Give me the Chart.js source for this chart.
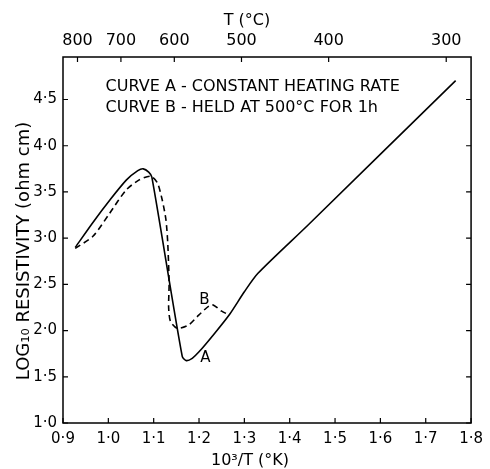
<!DOCTYPE html>
<html>
<head>
<meta charset="utf-8">
<script src="https://cdn.jsdelivr.net/npm/chart.js@4"></script>
<style>
html, body { margin: 0; padding: 0; background: #fff; }
#wrap { width: 490px; height: 469px; }
</style>
</head>
<body>
<div id="wrap"><canvas id="resChart"></canvas></div>
<script>
// curve A - constant heating rate (x = 10^3/T, y = log10 resistivity)
var curveAx = [0.927, 0.966, 1.003, 1.040, 1.065, 1.077, 1.089, 1.096, 1.163, 1.172, 1.185, 1.200, 1.236, 1.268, 1.300, 1.330, 1.440, 1.766];
var curveAy = [2.900, 3.170, 3.410, 3.630, 3.730, 3.750, 3.715, 3.660, 1.720, 1.675, 1.700, 1.770, 1.980, 2.180, 2.420, 2.620, 3.140, 4.705];

// curve B - held at 500 C for 1h
var curveBx = [0.927, 0.966, 1.003, 1.039, 1.068, 1.093, 1.108, 1.119, 1.127, 1.131, 1.134, 1.133, 1.137, 1.152, 1.177, 1.200, 1.228, 1.250, 1.266];
var curveBy = [2.890, 3.020, 3.270, 3.520, 3.630, 3.670, 3.600, 3.410, 3.200, 2.950, 2.510, 2.250, 2.100, 2.025, 2.060, 2.170, 2.280, 2.210, 2.170];

// top axis: temperature in deg C
var topTemps = [800, 700, 600, 500, 400, 300];

var legendLines = ['CURVE A - CONSTANT HEATING RATE', 'CURVE B - HELD AT 500\u00B0C FOR 1h'];
var curveLabels = [{ text: 'A', x: 1.214, y: 1.70 }, { text: 'B', x: 1.212, y: 2.33 }];

var FONT = '"DejaVu Sans", sans-serif';

function toPoints(xs, ys) {
  var pts = [];
  for (var i = 0; i < xs.length; i++) {
    pts.push({ x: xs[i], y: ys[i] });
  }
  return pts;
}

function dotLabel(v) {
  return v.toFixed(1).replace('.', '\u00B7');
}

// frame, inward ticks, axis titles and text notes
var framePlugin = {
  id: 'frame',
  afterDraw: function (chart) {
    var ctx = chart.ctx;
    var a = chart.chartArea;
    var sx = chart.scales.x, sy = chart.scales.y, st = chart.scales.x2;
    var tl = 5;
    ctx.save();
    ctx.strokeStyle = '#000';
    ctx.lineWidth = 1.5;
    ctx.strokeRect(a.left, a.top, a.right - a.left, a.bottom - a.top);
    ctx.lineWidth = 1.2;
    ctx.beginPath();
    sx.ticks.forEach(function (t) {
      var px = sx.getPixelForValue(t.value);
      ctx.moveTo(px, a.bottom);
      ctx.lineTo(px, a.bottom - tl);
    });
    st.ticks.forEach(function (t) {
      var px = st.getPixelForValue(t.value);
      ctx.moveTo(px, a.top);
      ctx.lineTo(px, a.top + tl);
    });
    sy.ticks.forEach(function (t) {
      var py = sy.getPixelForValue(t.value);
      ctx.moveTo(a.left, py);
      ctx.lineTo(a.left + tl, py);
      ctx.moveTo(a.right, py);
      ctx.lineTo(a.right - tl, py);
    });
    ctx.stroke();

    ctx.fillStyle = '#000';
    ctx.textBaseline = 'middle';
    ctx.textAlign = 'left';
    ctx.font = '16px ' + FONT;
    ctx.fillText(legendLines[0], sx.getPixelForValue(0.994), sy.getPixelForValue(4.64));
    ctx.fillText(legendLines[1], sx.getPixelForValue(0.994), sy.getPixelForValue(4.41));

    ctx.textAlign = 'center';
    ctx.font = '15px ' + FONT;
    curveLabels.forEach(function (l) {
      ctx.fillText(l.text, sx.getPixelForValue(l.x), sy.getPixelForValue(l.y));
    });

    // axis titles
    ctx.font = '16px ' + FONT;
    ctx.fillText('10\u00B3/T (\u00B0K)', a.left + 187, a.bottom + 38);
    ctx.fillText('T (\u00B0C)', a.left + 184, a.top - 36);
    ctx.translate(24, a.top + 194);
    ctx.rotate(-Math.PI / 2);
    ctx.font = '18px ' + FONT;
    ctx.fillText('LOG\u2081\u2080 RESISTIVITY (ohm cm)', 0, 0);
    ctx.restore();
  }
};

var chart = new Chart(document.getElementById('resChart'), {
  type: 'scatter',
  data: {
    datasets: [{
      label: 'Curve A',
      data: toPoints(curveAx, curveAy),
      showLine: true,
      borderColor: '#000',
      borderWidth: 1.6,
      pointRadius: 0,
      tension: 0.25
    }, {
      label: 'Curve B',
      data: toPoints(curveBx, curveBy),
      showLine: true,
      borderColor: '#000',
      borderWidth: 1.6,
      borderDash: [6, 4],
      pointRadius: 0,
      tension: 0.25
    }]
  },
  options: {
    responsive: true,
    maintainAspectRatio: false,
    animation: false,
    layout: { padding: { left: 0, right: 15, top: 0, bottom: 0 } },
    plugins: { legend: { display: false }, tooltip: { enabled: false } },
    scales: {
      x: {
        type: 'linear',
        position: 'bottom',
        min: 0.9,
        max: 1.8,
        grid: { display: false, drawTicks: false },
        border: { display: false },
        ticks: {
          stepSize: 0.1,
          color: '#000',
          padding: 7,
          maxRotation: 0,
          font: { family: FONT, size: 15 },
          callback: function (v) { return dotLabel(v); }
        },
        afterFit: function (scale) { scale.height = 46; }
      },
      x2: {
        type: 'linear',
        position: 'top',
        min: 0.9,
        max: 1.8,
        grid: { display: false, drawTicks: false },
        border: { display: false },
        afterBuildTicks: function (scale) {
          scale.ticks = topTemps.map(function (t) { return { value: 1000 / (t + 273) }; });
        },
        ticks: {
          color: '#000',
          padding: 7,
          maxRotation: 0,
          autoSkip: false,
          font: { family: FONT, size: 16 },
          callback: function (v, i) { return String(topTemps[i]); }
        },
        afterFit: function (scale) { scale.height = 57; }
      },
      y: {
        type: 'linear',
        min: 1.0,
        max: 4.96,
        grid: { display: false, drawTicks: false },
        border: { display: false },
        ticks: {
          stepSize: 0.5,
          includeBounds: false,
          color: '#000',
          padding: 6,
          font: { family: FONT, size: 15 },
          callback: function (v) { return dotLabel(v); }
        },
        afterFit: function (scale) { scale.width = 63; }
      }
    }
  },
  plugins: [framePlugin]
});
</script>
</body>
</html>
